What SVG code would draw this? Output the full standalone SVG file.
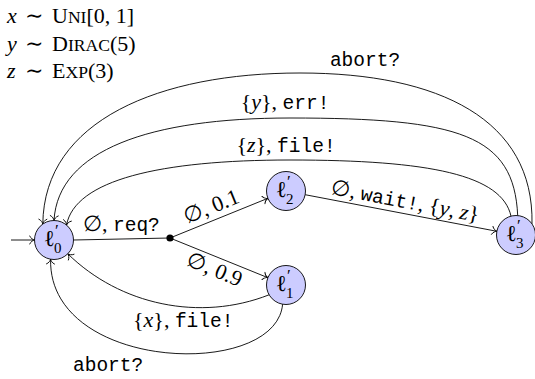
<svg xmlns="http://www.w3.org/2000/svg" width="535" height="379" viewBox="0 0 535 379">
  <defs>
    <style>
      .s{font-family:"Liberation Serif","DejaVu Serif",serif;font-size:22px;fill:#000}
      .m{font-family:"Liberation Mono","DejaVu Sans Mono",monospace;font-size:19.5px}
      .i{font-style:italic}
      .sc{font-size:17.6px}
      .node circle{fill:#ccccff;stroke:#000;stroke-width:0.9}
      .edge{fill:none;stroke:#000;stroke-width:0.9}
      .loc{font-family:"Liberation Serif","DejaVu Serif",serif;font-size:23px}
      .pr{font-family:"Liberation Serif","DejaVu Serif",serif;font-size:17px}
      .idx{font-family:"Liberation Serif","DejaVu Serif",serif;font-size:15px}
    </style>
    <!-- TikZ-style "to" arrow tip -->
    <marker id="to" viewBox="-6 -5 8 10" refX="0" refY="0" markerWidth="8" markerHeight="10" markerUnits="userSpaceOnUse" orient="auto">
      <path d="M -4.8 -4 C -3.8 -1.5 -1.3 -0.3 0 0 C -1.3 0.3 -3.8 1.5 -4.8 4" fill="none" stroke="#000" stroke-width="0.9" stroke-linecap="round"/>
    </marker>
  </defs>

  <!-- random variable declarations -->
  <g id="declarations">
    <text class="s" y="23"><tspan class="i" x="7">x</tspan><tspan x="25">∼</tspan><tspan x="52">U</tspan><tspan class="sc">NI</tspan>[0, 1]</text>
    <text class="s" y="51"><tspan class="i" x="7">y</tspan><tspan x="25">∼</tspan><tspan x="52">D</tspan><tspan class="sc">IRAC</tspan>(5)</text>
    <text class="s" y="78"><tspan class="i" x="7">z</tspan><tspan x="25">∼</tspan><tspan x="52">E</tspan><tspan class="sc">XP</tspan>(3)</text>
  </g>

  <!-- transitions -->
  <g id="connectors">
    <path class="edge" d="M 11 240 L 34.5 240" marker-end="url(#to)"/>
    <path class="edge" d="M 73.5 240 L 170 238"/>
    <path class="edge" d="M 170 238 L 267.9 198.3" marker-end="url(#to)"/>
    <path class="edge" d="M 170 238 L 267.9 277.7" marker-end="url(#to)"/>
    <path class="edge" d="M 305.1 194.7 L 496.9 231.3" marker-end="url(#to)"/>
    <path class="edge" d="M 532 223.8 C 534 120 440 73 300 73 C 160 73 44 120 42.8 224" marker-end="url(#to)"/>
    <path class="edge" d="M 517.7 215.6 C 514 135 460 118 290 118 C 150 118 58 150 54 220.5" marker-end="url(#to)"/>
    <path class="edge" d="M 511 216.2 C 502 175 430 160 290 160 C 160 160 75 180 66.5 225.1" marker-end="url(#to)"/>
    <path class="edge" d="M 269.1 294.8 C 200 322 120 305 67.8 253.8" marker-end="url(#to)"/>
    <path class="edge" d="M 282.6 304.2 C 276 380 48 372 50.6 259.2" marker-end="url(#to)"/>
    <circle cx="170" cy="238" r="3.6" fill="#000"/>
  </g>

  <!-- transition labels -->
  <g id="labels">
    <text class="s" x="83" y="231">∅, <tspan class="m">req?</tspan></text>
    <text class="s" text-anchor="middle" transform="translate(214 213) rotate(-22)">∅, 0.1</text>
    <text class="s" text-anchor="middle" transform="translate(212 276) rotate(22)">∅, 0.9</text>
    <text class="s" text-anchor="middle" transform="translate(404 208) rotate(10.8)">∅, <tspan class="m">wait!</tspan>, {<tspan class="i">y</tspan>, <tspan class="i">z</tspan>}</text>
    <text class="m" text-anchor="middle" x="365" y="66">abort?</text>
    <text class="s" text-anchor="middle" x="285" y="109">{<tspan class="i">y</tspan>}, <tspan class="m">err!</tspan></text>
    <text class="s" text-anchor="middle" x="286" y="152">{<tspan class="i">z</tspan>}, <tspan class="m">file!</tspan></text>
    <text class="s" x="133" y="327">{<tspan class="i">x</tspan>}, <tspan class="m">file!</tspan></text>
    <text class="m" x="73" y="371">abort?</text>
  </g>

  <!-- locations: primed l with index -->
  <g id="l0" class="node">
    <circle cx="54" cy="240" r="19.5"/>
    <text class="loc" x="44" y="246">ℓ</text>
    <text class="pr" x="55" y="236">′</text>
    <text class="idx" x="54" y="253">0</text>
  </g>
  <g id="l2" class="node">
    <circle cx="286" cy="191" r="19.5"/>
    <text class="loc" x="276" y="197">ℓ</text>
    <text class="pr" x="287" y="187">′</text>
    <text class="idx" x="286" y="204">2</text>
  </g>
  <g id="l1" class="node">
    <circle cx="286" cy="285" r="19.5"/>
    <text class="loc" x="276" y="291">ℓ</text>
    <text class="pr" x="287" y="281">′</text>
    <text class="idx" x="286" y="298">1</text>
  </g>
  <g id="l3" class="node">
    <circle cx="516" cy="235" r="19.5"/>
    <text class="loc" x="506" y="241">ℓ</text>
    <text class="pr" x="517" y="231">′</text>
    <text class="idx" x="516" y="248">3</text>
  </g>
</svg>
